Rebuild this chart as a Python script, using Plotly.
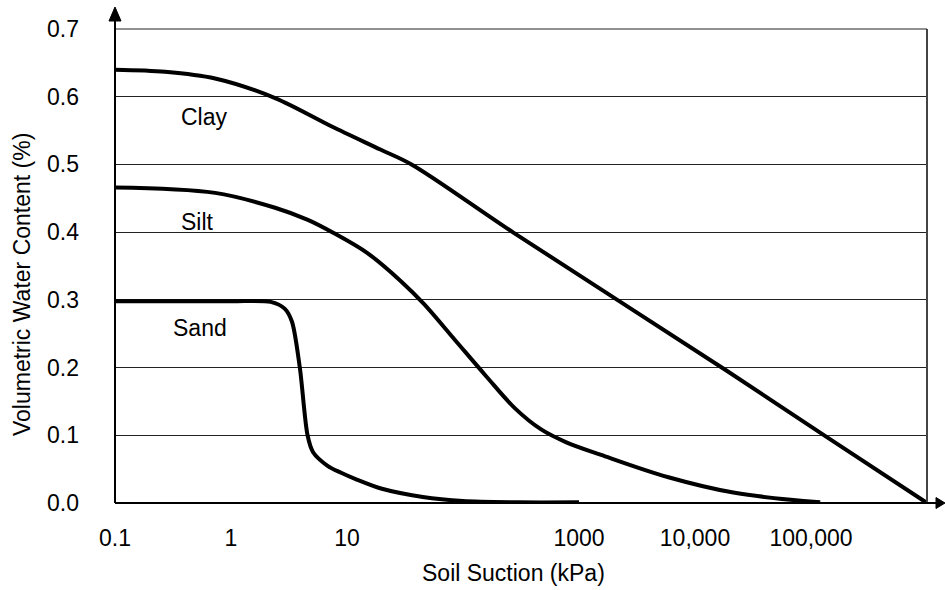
import numpy as np
import plotly.graph_objects as go

# Soil-water characteristic curves: suction (kPa) vs volumetric water content
clay_suction = [0.1, 0.27, 0.73, 2.4, 7.4, 19.4, 36, 274, 18500, 135000, 1000000]
clay_theta = [0.640, 0.637, 0.627, 0.598, 0.556, 0.522, 0.500, 0.399, 0.196, 0.098, 0.0]

silt_suction = [0.1, 0.73, 2.4, 4.6, 7.6, 15, 29, 46, 86, 157, 284, 468, 769,
                1550, 5900, 22000, 120000]
silt_theta = [0.466, 0.458, 0.436, 0.418, 0.399, 0.369, 0.328, 0.294, 0.240, 0.188,
              0.139, 0.109, 0.090, 0.071, 0.038, 0.015, 0.001]

sand_suction = [0.1, 1, 2.2, 2.9, 3.35, 3.92, 4.57, 5.1, 6.8, 8.8, 12, 20, 45, 100,
                300, 1000]
sand_theta = [0.298, 0.298, 0.297, 0.287, 0.268, 0.200, 0.100, 0.075, 0.055, 0.045,
              0.035, 0.021, 0.009, 0.003, 0.001, 0.001]

x_tick_vals = [0.1, 1, 10, 1000, 10000, 100000]
x_tick_text = ["0.1", "1", "10", "1000", "10,000", "100,000"]
y_tick_vals = [0.0, 0.1, 0.2, 0.3, 0.4, 0.5, 0.6, 0.7]

curve_labels = ["Clay", "Silt", "Sand"]
label_suction = [0.587, 0.51, 0.542]
label_theta = [0.570, 0.415, 0.258]

FONT = "Liberation Sans, Arial, sans-serif"
FS = 23

fig = go.Figure()
for xs, ys, sm in [(clay_suction, clay_theta, 0.9), (silt_suction, silt_theta, 1.0),
                   (sand_suction, sand_theta, 0.8)]:
    fig.add_trace(go.Scatter(
        x=xs, y=ys, mode="lines",
        line=dict(color="black", width=4, shape="spline", smoothing=sm),
        showlegend=False, hoverinfo="skip",
    ))

for name, sx, sy in zip(curve_labels, label_suction, label_theta):
    fig.add_annotation(x=np.log10(sx), y=sy, xref="x", yref="y", text=name,
                       showarrow=False, font=dict(family=FONT, size=FS, color="black"))

# plot area geometry in pixels (used for axis extensions and arrowheads)
W, H = 945, 590
L, R, T, B = 115, 18, 29, 87
pw, ph = W - L - R, H - T - B

shapes = [
    # right frame edge
    dict(type="line", xref="paper", yref="paper", x0=1, x1=1, y0=0, y1=1,
         line=dict(color="#444", width=2)),
    # top frame edge
    dict(type="line", xref="paper", yref="paper", x0=0, x1=1, y0=1, y1=1,
         line=dict(color="#222", width=1.2)),
    # vertical axis extended past the frame
    dict(type="line", xref="paper", yref="paper", x0=0, x1=0, y0=0, y1=1 + 10 / ph,
         line=dict(color="black", width=2)),
    # horizontal axis extended past the frame
    dict(type="line", xref="paper", yref="paper", x0=0, x1=1 + 11 / pw, y0=0, y1=0,
         line=dict(color="black", width=2)),
    # arrowheads
    dict(type="path", xref="paper", yref="paper", xsizemode="pixel", ysizemode="pixel",
         xanchor=0, yanchor=1, path="M -6,8 L 6,8 L 0,22 Z",
         fillcolor="black", line=dict(color="black", width=1)),
    dict(type="path", xref="paper", yref="paper", xsizemode="pixel", ysizemode="pixel",
         xanchor=1, yanchor=0, path="M 9,5.5 L 9,-5.5 L 18,0 Z",
         fillcolor="black", line=dict(color="black", width=1)),
]

fig.add_annotation(x=(513 - L) / pw, y=-(573 - (H - B)) / ph, xref="paper", yref="paper",
                   text="Soil Suction (kPa)", showarrow=False, yanchor="middle",
                   font=dict(family=FONT, size=FS, color="black"))
fig.add_annotation(x=(22 - L) / pw, y=((H - B) - 285) / ph, xref="paper", yref="paper",
                   text="Volumetric Water Content (%)", showarrow=False, textangle=-90,
                   xanchor="center", yanchor="middle",
                   font=dict(family=FONT, size=FS, color="black"))

fig.update_layout(
    width=W, height=H,
    margin=dict(l=L, r=R, t=T, b=B),
    paper_bgcolor="white", plot_bgcolor="white",
    font=dict(family=FONT, size=FS, color="black"),
    shapes=shapes,
    xaxis=dict(type="log", range=[-1, 6], tickvals=x_tick_vals, ticktext=x_tick_text,
               showgrid=False, zeroline=False, showline=False, ticks="", ticklen=0,
               ticklabelstandoff=19, tickfont=dict(family=FONT, size=FS, color="black")),
    yaxis=dict(range=[0, 0.7], tickvals=y_tick_vals, tickformat=".1f",
               showgrid=True, gridcolor="#222", gridwidth=1.2, zeroline=False,
               showline=False, ticks="", ticklen=0, ticklabelstandoff=35,
               tickfont=dict(family=FONT, size=FS, color="black")),
)

fig.write_html("out.html")
